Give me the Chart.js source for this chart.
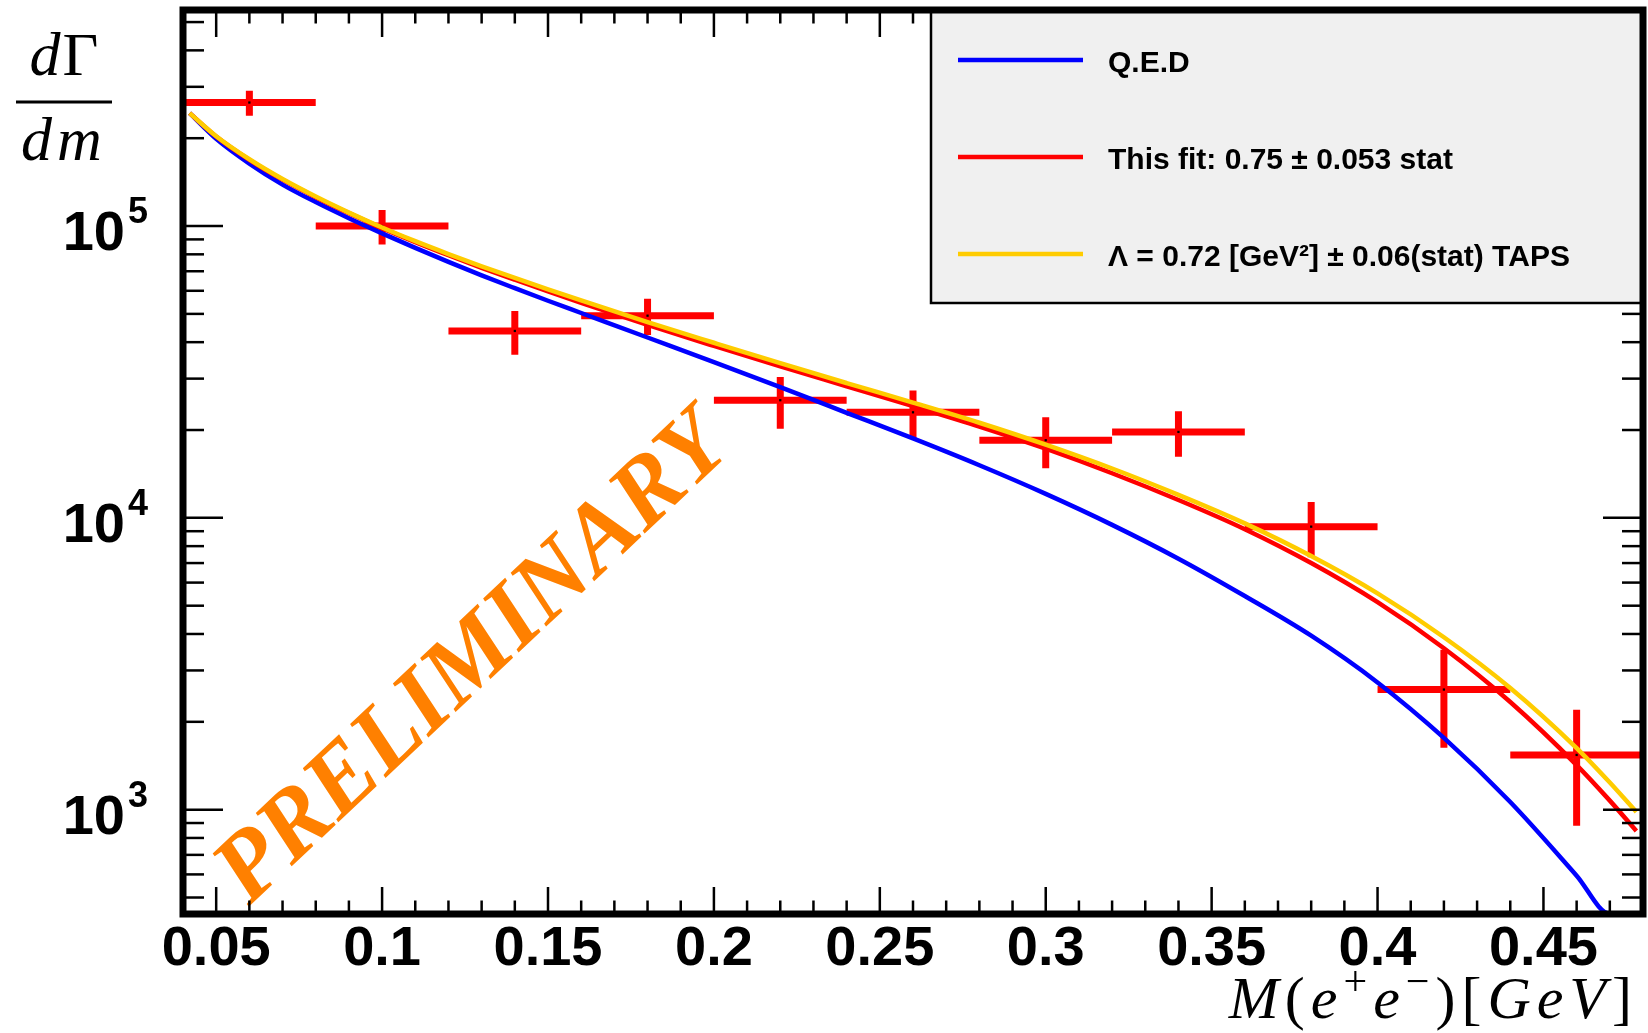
<!DOCTYPE html>
<html>
<head>
<meta charset="utf-8">
<script src="https://cdn.jsdelivr.net/npm/chart.js@4.4.1/dist/chart.umd.min.js"></script>
<style>
html,body{margin:0;padding:0;background:#ffffff;}
#wrap{width:1648px;height:1033px;position:relative;}
</style>
</head>
<body>
<div id="wrap"><canvas id="c" width="1648" height="1033"></canvas></div>
<script>
// ---------------- data ----------------
const binCenters   = [0.06, 0.10, 0.14, 0.18, 0.22, 0.26, 0.30, 0.34, 0.38, 0.42, 0.46];
const binHalfWidth = [0.02, 0.02, 0.02, 0.02, 0.02, 0.02, 0.02, 0.02, 0.02, 0.02, 0.02];
const dataValues   = [265000, 100000, 43700, 49300, 25300, 23000, 18450, 19700, 9330, 2580, 1540];
const dataErrors   = [26000, 13500, 7500, 7000, 5100, 4300, 3650, 3500, 2000, 950, 660];

const curveX = [0.042, 0.05, 0.06, 0.07, 0.08, 0.09, 0.10, 0.11, 0.12, 0.13, 0.14, 0.15, 0.16,
                0.18, 0.20, 0.22, 0.24, 0.26, 0.28, 0.30, 0.32, 0.34, 0.36, 0.38, 0.40, 0.42,
                0.44, 0.46, 0.47, 0.478];
const qedValues  = [243800, 199100, 163700, 138700, 120800, 106400, 94410, 84140, 75340, 67760,
                    61240, 55460, 50350, 41500, 34200, 28050, 22910, 18710, 15140, 12080, 9462,
                    7244, 5395, 3945, 2729, 1762, 1062, 594, 440, 440];
const fitValues  = [243800, 202800, 168700, 144200, 125600, 110700, 98400, 88100, 79430, 71940,
                    65460, 59700, 54580, 45810, 38820, 33040, 28250, 24150, 20560, 17260, 14220,
                    11510, 9141, 6998, 5140, 3573, 2339, 1422, 1074, 845];
const tapsValues = [243800, 203200, 169400, 144900, 126200, 111200, 98860, 88720, 80170, 72780,
                    66370, 60670, 55590, 46880, 39810, 33880, 28970, 24830, 21180, 17820, 14760,
                    11990, 9572, 7396, 5508, 3899, 2612, 1626, 1239, 982];

const seriesLabels = ['Q.E.D', 'This fit: 0.75 \u00B1 0.053 stat', '\u039B = 0.72 [GeV\u00B2] \u00B1 0.06(stat) TAPS'];

const xRange = [0.04, 0.48];
const yRange = [439, 550000];
const xTickValues = [0.05, 0.10, 0.15, 0.20, 0.25, 0.30, 0.35, 0.40, 0.45];
const xTickLabels = ['0.05', '0.1', '0.15', '0.2', '0.25', '0.3', '0.35', '0.4', '0.45'];
const yTickValues = [1000, 10000, 100000];
const yTickBase = ['10', '10', '10'];
const yTickExponents = ['3', '4', '5'];
const watermarkText = 'PRELIMINARY';

// ---------------- build datasets ----------------
const SANS  = "'Liberation Sans', Arial, Helvetica, sans-serif";
const SERIF = "'Liberation Serif', 'Times New Roman', serif";

function curve(values) { return curveX.map((x, i) => ({x: x, y: values[i]})); }

const crossPoints = [];
binCenters.forEach((c, i) => {
  const v = dataValues[i], e = dataErrors[i], h = binHalfWidth[i];
  crossPoints.push({x: c - h, y: v}, {x: c + h, y: v}, {x: c, y: null},
                   {x: c, y: v - e}, {x: c, y: v + e}, {x: c, y: null});
});
const centerPoints = binCenters.map((c, i) => ({x: c, y: dataValues[i]}));

const lineCommon = {pointRadius: 0, borderWidth: 4.5, cubicInterpolationMode: 'monotone', fill: false};

const datasets = [
  Object.assign({label: seriesLabels[2], data: curve(tapsValues), borderColor: '#ffcc00', order: 0, legendRow: 2}, lineCommon),
  Object.assign({label: seriesLabels[1], data: curve(fitValues),  borderColor: '#ff0000', order: 1, legendRow: 1}, lineCommon),
  Object.assign({label: seriesLabels[0], data: curve(qedValues),  borderColor: '#0000ff', order: 2, legendRow: 0}, lineCommon),
  {label: 'data points', data: centerPoints, showLine: false, pointStyle: 'rect', pointRadius: 1.6,
   pointBackgroundColor: '#000', pointBorderWidth: 0, order: 3},
  {label: 'data', data: crossPoints, borderColor: '#ff0000', borderWidth: 7, borderCapStyle: 'butt',
   pointRadius: 0, spanGaps: false, tension: 0, order: 4}
];

// ---------------- ROOT-like decorations ----------------
function seg(ctx, x1, y1, x2, y2) { ctx.beginPath(); ctx.moveTo(x1, y1); ctx.lineTo(x2, y2); ctx.stroke(); }

const rootStyle = {
  id: 'rootStyle',
  beforeDatasetsDraw(chart) {
    const ctx = chart.ctx;
    ctx.save();
    ctx.translate(474, 660);
    ctx.rotate(-43.3 * Math.PI / 180);
    ctx.font = 'italic bold 97px ' + SERIF;
    ctx.fillStyle = '#ff8000';
    ctx.textAlign = 'center';
    ctx.textBaseline = 'middle';
    ctx.fillText(watermarkText, 0, 0);
    ctx.restore();
  },
  afterDatasetsDraw(chart) {
    const ctx = chart.ctx, a = chart.chartArea, xs = chart.scales.x, ys = chart.scales.y;
    ctx.save();
    // tick marks (inside the frame, mirrored)
    ctx.strokeStyle = '#000';
    ctx.lineWidth = 2.5;
    for (let k = 5; k < 48; k++) {
      const px = xs.getPixelForValue(k / 100);
      const L = (k % 5 === 0) ? 27 : 13.5;
      seg(ctx, px, a.bottom, px, a.bottom - L);
      seg(ctx, px, a.top, px, a.top + L);
    }
    for (let e = 2; e <= 5; e++) {
      for (let m = 1; m <= 9; m++) {
        const v = m * Math.pow(10, e);
        if (v <= yRange[0] || v >= yRange[1]) continue;
        const py = ys.getPixelForValue(v);
        const L = (m === 1) ? 40 : 21;
        seg(ctx, a.left, py, a.left + L, py);
        seg(ctx, a.right, py, a.right - L, py);
      }
    }
    // y tick labels 10^n
    ctx.fillStyle = '#000';
    ctx.textBaseline = 'alphabetic';
    yTickValues.forEach((v, i) => {
      const py = ys.getPixelForValue(v);
      ctx.font = 'bold 56px ' + SANS;
      ctx.textAlign = 'right';
      ctx.fillText(yTickBase[i], 125, py + 24);
      ctx.font = 'bold 36px ' + SANS;
      ctx.textAlign = 'left';
      ctx.fillText(yTickExponents[i], 128, py - 3);
    });
    // legend box
    const lx = 931, lb = 303;
    ctx.fillStyle = '#f0f0f0';
    ctx.fillRect(lx, a.top, a.right - lx, lb - a.top);
    ctx.strokeStyle = '#000';
    ctx.lineWidth = 2.5;
    ctx.strokeRect(lx, a.top, a.right - lx, lb - a.top);
    const rows = [60, 157, 254];
    chart.data.datasets.forEach(ds => {
      if (ds.legendRow === undefined) return;
      const y = rows[ds.legendRow];
      ctx.strokeStyle = ds.borderColor;
      ctx.lineWidth = 4.5;
      seg(ctx, 958, y, 1083, y);
      ctx.fillStyle = '#000';
      ctx.font = 'bold 30px ' + SANS;
      ctx.textAlign = 'left';
      ctx.textBaseline = 'middle';
      ctx.fillText(ds.label, 1108, y + 4);
    });
    // frame
    ctx.strokeStyle = '#000';
    ctx.lineWidth = 7;
    ctx.strokeRect(a.left, a.top, a.right - a.left, a.bottom - a.top);

    // y title: dGamma / dm
    ctx.fillStyle = '#000';
    ctx.textBaseline = 'alphabetic';
    ctx.textAlign = 'left';
    ctx.font = 'italic 62px ' + SERIF;
    const wd = ctx.measureText('d').width;
    ctx.font = '62px ' + SERIF;
    const wG = ctx.measureText('\u0393').width;
    let x0 = 64 - (wd + wG + 2) / 2;
    ctx.font = 'italic 62px ' + SERIF;
    ctx.fillText('d', x0, 75);
    ctx.font = '62px ' + SERIF;
    ctx.fillText('\u0393', x0 + wd + 2, 75);
    ctx.strokeStyle = '#000';
    ctx.lineWidth = 3;
    seg(ctx, 16, 102, 112, 102);
    ctx.font = 'italic 62px ' + SERIF;
    ctx.letterSpacing = '5px';
    const wdm = ctx.measureText('dm').width;
    ctx.fillText('dm', 64 - wdm / 2, 160);
    ctx.letterSpacing = '0px';

    // x title: M(e+e-)[GeV]
    const pieces = [
      {t: 'M', f: 'italic 60px ' + SERIF, dy: 0},
      {t: '(', f: '60px ' + SERIF, dy: 0},
      {t: 'e', f: 'italic 60px ' + SERIF, dy: 0},
      {t: '+', f: '42px ' + SERIF, dy: -23},
      {t: 'e', f: 'italic 60px ' + SERIF, dy: 0},
      {t: '\u2212', f: '42px ' + SERIF, dy: -23},
      {t: ')', f: '60px ' + SERIF, dy: 0},
      {t: '[', f: '60px ' + SERIF, dy: 0},
      {t: 'G', f: 'italic 60px ' + SERIF, dy: 0},
      {t: 'e', f: 'italic 60px ' + SERIF, dy: 0},
      {t: 'V', f: 'italic 60px ' + SERIF, dy: 0},
      {t: ']', f: '60px ' + SERIF, dy: 0}
    ];
    const gap = 6;
    let total = 0;
    pieces.forEach(p => { ctx.font = p.f; p.w = ctx.measureText(p.t).width; total += p.w + gap; });
    total -= gap;
    let cx = 1632 - total;
    pieces.forEach(p => { ctx.font = p.f; ctx.fillText(p.t, cx, 1018 + p.dy); cx += p.w + gap; });
    ctx.restore();
  }
};

new Chart(document.getElementById('c'), {
  type: 'line',
  data: {datasets: datasets},
  options: {
    responsive: false,
    animation: false,
    devicePixelRatio: 1,
    events: [],
    layout: {padding: {left: 0, right: 5, top: 10, bottom: 0}},
    plugins: {legend: {display: false}, tooltip: {enabled: false}},
    scales: {
      x: {
        type: 'linear', min: xRange[0], max: xRange[1],
        afterBuildTicks: s => { s.ticks = xTickValues.map(v => ({value: v})); },
        afterFit: s => { s.height = 119; s.paddingLeft = 0; s.paddingRight = 0; },
        grid: {display: false, drawTicks: false},
        border: {display: false},
        ticks: {
          autoSkip: false, maxRotation: 0, padding: 2, color: '#000',
          font: {family: SANS, size: 56, weight: 'bold'},
          callback: (v, i) => xTickLabels[i]
        }
      },
      y: {
        type: 'logarithmic', min: yRange[0], max: yRange[1],
        afterBuildTicks: s => { s.ticks = yTickValues.map(v => ({value: v})); },
        afterFit: s => { s.width = 183; s.paddingTop = 0; s.paddingBottom = 0; },
        grid: {display: false, drawTicks: false},
        border: {display: false},
        ticks: {display: false}
      }
    }
  },
  plugins: [rootStyle]
});
</script>
</body>
</html>
